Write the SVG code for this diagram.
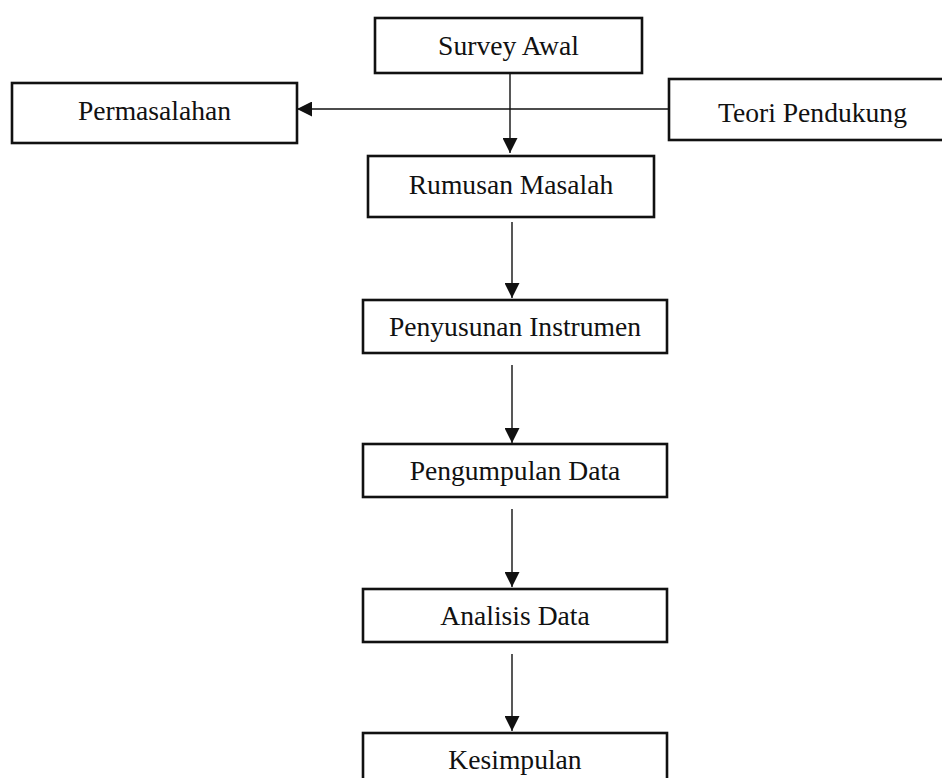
<svg xmlns="http://www.w3.org/2000/svg" width="942" height="778" viewBox="0 0 942 778">
<style>
.box{fill:#fff;stroke:#111;stroke-width:2.6}
.lbl{font-family:"Liberation Serif","Times New Roman",serif;font-size:27.6px;fill:#111;text-anchor:middle}
.con{stroke:#111;stroke-width:1.4;fill:none}
</style>
<defs>
<marker id="ah" markerUnits="userSpaceOnUse" markerWidth="15" markerHeight="15" viewBox="0 0 15 15" refX="15" refY="7.5" orient="auto">
<path d="M0,0 L15,7.5 L0,15 Z" fill="#111"/>
</marker>
</defs>
<rect width="942" height="778" fill="#fff"/>
<g id="connectors">
<line class="con" x1="669" y1="109" x2="297" y2="109" marker-end="url(#ah)"/>
<line class="con" x1="510" y1="73" x2="510" y2="153" marker-end="url(#ah)"/>
<line class="con" x1="512" y1="222" x2="512" y2="298" marker-end="url(#ah)"/>
<line class="con" x1="512" y1="365" x2="512" y2="443" marker-end="url(#ah)"/>
<line class="con" x1="512" y1="509" x2="512" y2="587" marker-end="url(#ah)"/>
<line class="con" x1="512" y1="654" x2="512" y2="731" marker-end="url(#ah)"/>
</g>
<g id="survey"><rect class="box" x="375" y="18" width="267" height="55"/><text class="lbl" x="508.5" y="54.5">Survey Awal</text></g>
<g id="permasalahan"><rect class="box" x="12" y="83" width="285" height="60"/><text class="lbl" x="154.5" y="120">Permasalahan</text></g>
<g id="teori"><rect class="box" x="669" y="79" width="290" height="61"/><text class="lbl" x="812.5" y="122">Teori Pendukung</text></g>
<g id="rumusan"><rect class="box" x="368" y="156" width="286" height="61"/><text class="lbl" x="511" y="194">Rumusan Masalah</text></g>
<g id="penyusunan"><rect class="box" x="363" y="300" width="304" height="53"/><text class="lbl" x="515" y="336">Penyusunan Instrumen</text></g>
<g id="pengumpulan"><rect class="box" x="363" y="444" width="304" height="53"/><text class="lbl" x="515" y="480">Pengumpulan Data</text></g>
<g id="analisis"><rect class="box" x="363" y="589" width="304" height="53"/><text class="lbl" x="515" y="625">Analisis Data</text></g>
<g id="kesimpulan"><rect class="box" x="363" y="733" width="304" height="53"/><text class="lbl" x="515" y="769">Kesimpulan</text></g>
</svg>
